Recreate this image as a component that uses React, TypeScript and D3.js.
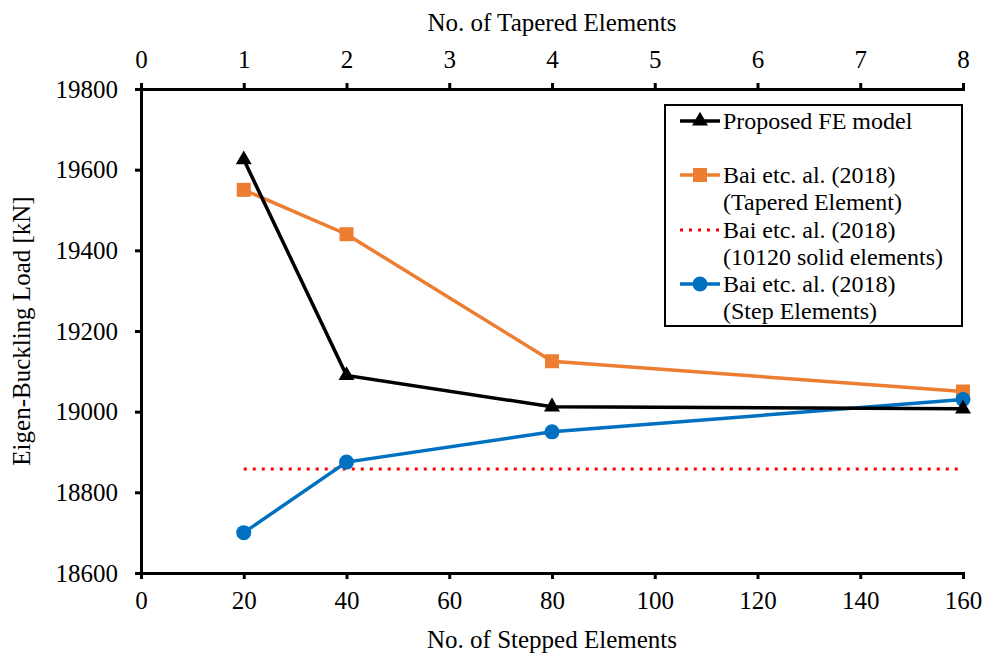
import { useEffect, useRef } from 'react';
import * as d3 from 'd3';

// x values on the bottom axis (no. of stepped elements)
const steppedElements = [20, 40, 80, 160];
const proposedFE = [19625, 19090, 19012, 19007];
const baiTapered = [19550, 19440, 19125, 19050];
const baiStep = [18700, 18875, 18950, 19030];
const baiSolid = 18858;
const solidRange = [20, 160];

const bottomTicks = [0, 20, 40, 60, 80, 100, 120, 140, 160];
const topTickLabels = ['0', '1', '2', '3', '4', '5', '6', '7', '8'];
const yTicks = [18600, 18800, 19000, 19200, 19400, 19600, 19800];

const FONT = "'Liberation Serif', 'Times New Roman', serif";

export default function App() {
  const svgRef = useRef<SVGSVGElement>(null);

  useEffect(() => {
    if (!svgRef.current) return;
    const svg = d3.select(svgRef.current);
    svg.selectAll('*').remove();

    const margin = { top: 89, right: 22, bottom: 85, left: 141 };
    const W = 985, H = 658;
    const width = W - margin.left - margin.right;
    const height = H - margin.top - margin.bottom;

    const g = svg.append('g').attr('transform', `translate(${margin.left},${margin.top})`);

    const x = d3.scaleLinear().domain([0, 160]).range([0, width]);
    const y = d3.scaleLinear().domain([18600, 19800]).range([height, 0]);
    const xTop = d3.scalePoint<string>().domain(topTickLabels).range([0, width]);

    // axes
    const styleAxis = (sel: d3.Selection<SVGGElement, unknown, null, undefined>) => {
      sel.attr('font-family', FONT).attr('font-size', 25);
      sel.select('.domain').attr('stroke', '#000').attr('stroke-width', 3);
      sel.selectAll('.tick line').attr('stroke', '#000').attr('stroke-width', 3);
      sel.selectAll('.tick text').attr('fill', '#000');
    };

    g.append('g')
      .attr('transform', `translate(0,${height})`)
      .call(d3.axisBottom(x).tickValues(bottomTicks).tickSize(6).tickSizeOuter(6).tickPadding(12))
      .call(styleAxis);

    g.append('g')
      .call(d3.axisTop(xTop).tickSize(6).tickSizeOuter(6).tickPadding(15))
      .call(styleAxis);

    g.append('g')
      .call(d3.axisLeft(y).tickValues(yTicks).tickSize(6).tickSizeOuter(0).tickPadding(17).tickFormat(d3.format('d')))
      .call(styleAxis);

    // axis titles
    svg.append('text')
      .attr('x', margin.left + width / 2).attr('y', 31)
      .attr('text-anchor', 'middle')
      .attr('font-family', FONT).attr('font-size', 25)
      .text('No. of Tapered Elements');

    svg.append('text')
      .attr('x', margin.left + width / 2).attr('y', 648)
      .attr('text-anchor', 'middle')
      .attr('font-family', FONT).attr('font-size', 25)
      .text('No. of Stepped Elements');

    svg.append('text')
      .attr('transform', `translate(30,${margin.top + height / 2}) rotate(-90)`)
      .attr('text-anchor', 'middle')
      .attr('font-family', FONT).attr('font-size', 25)
      .text('Eigen-Buckling Load [kN]');

    // solid reference line
    g.append('line')
      .attr('x1', x(solidRange[0])).attr('x2', x(solidRange[1]))
      .attr('y1', y(baiSolid)).attr('y2', y(baiSolid))
      .attr('stroke', '#ff0000').attr('stroke-width', 3)
      .attr('stroke-dasharray', '3 6');

    const line = d3.line<number>()
      .x((_, i) => x(steppedElements[i]))
      .y(d => y(d));

    const tri = d3.symbol().type(d3.symbolTriangle).size(110);

    const series = [
      { values: baiTapered, color: '#ed7d31', marker: 'square' },
      { values: baiStep, color: '#0070c0', marker: 'circle' },
      { values: proposedFE, color: '#000000', marker: 'triangle' },
    ];

    series.forEach(s => {
      g.append('path')
        .datum(s.values)
        .attr('fill', 'none')
        .attr('stroke', s.color)
        .attr('stroke-width', 3.5)
        .attr('d', line);
      s.values.forEach((v, i) => {
        const cx = x(steppedElements[i]);
        const cy = y(v);
        if (s.marker === 'square') {
          g.append('rect').attr('x', cx - 7).attr('y', cy - 7).attr('width', 14).attr('height', 14).attr('fill', s.color);
        } else if (s.marker === 'circle') {
          g.append('circle').attr('cx', cx).attr('cy', cy).attr('r', 7.5).attr('fill', s.color);
        } else {
          g.append('path').attr('d', tri).attr('transform', `translate(${cx},${cy})`).attr('fill', s.color);
        }
      });
    });

    // legend
    const lg = svg.append('g');
    lg.append('rect')
      .attr('x', 665).attr('y', 105).attr('width', 297).attr('height', 221)
      .attr('fill', '#fff').attr('stroke', '#000').attr('stroke-width', 2);

    const legendItems = [
      { lines: ['Proposed FE model'], color: '#000', marker: 'triangle', y: 121 },
      { lines: ['Bai etc. al. (2018)', '(Tapered Element)'], color: '#ed7d31', marker: 'square', y: 175 },
      { lines: ['Bai etc. al. (2018)', '(10120 solid elements)'], color: '#ff0000', marker: 'dots', y: 230 },
      { lines: ['Bai etc. al. (2018)', '(Step Elements)'], color: '#0070c0', marker: 'circle', y: 284 },
    ];

    legendItems.forEach(it => {
      const l = lg.append('line')
        .attr('x1', 680).attr('x2', 720).attr('y1', it.y).attr('y2', it.y)
        .attr('stroke', it.color).attr('stroke-width', 3.5);
      if (it.marker === 'dots') l.attr('stroke-width', 3).attr('stroke-dasharray', '3 6');
      if (it.marker === 'square') {
        lg.append('rect').attr('x', 693).attr('y', it.y - 7).attr('width', 14).attr('height', 14).attr('fill', it.color);
      } else if (it.marker === 'circle') {
        lg.append('circle').attr('cx', 700).attr('cy', it.y).attr('r', 7.5).attr('fill', it.color);
      } else if (it.marker === 'triangle') {
        lg.append('path').attr('d', tri).attr('transform', `translate(700,${it.y})`).attr('fill', it.color);
      }
      it.lines.forEach((t, k) => {
        lg.append('text')
          .attr('x', 723).attr('y', it.y + 8 + k * 27)
          .attr('font-family', FONT).attr('font-size', 24)
          .text(t);
      });
    });
  }, []);

  return <svg ref={svgRef} width={985} height={658} style={{ display: 'block', position: 'absolute', left: 0, top: 0 }} />;
}
